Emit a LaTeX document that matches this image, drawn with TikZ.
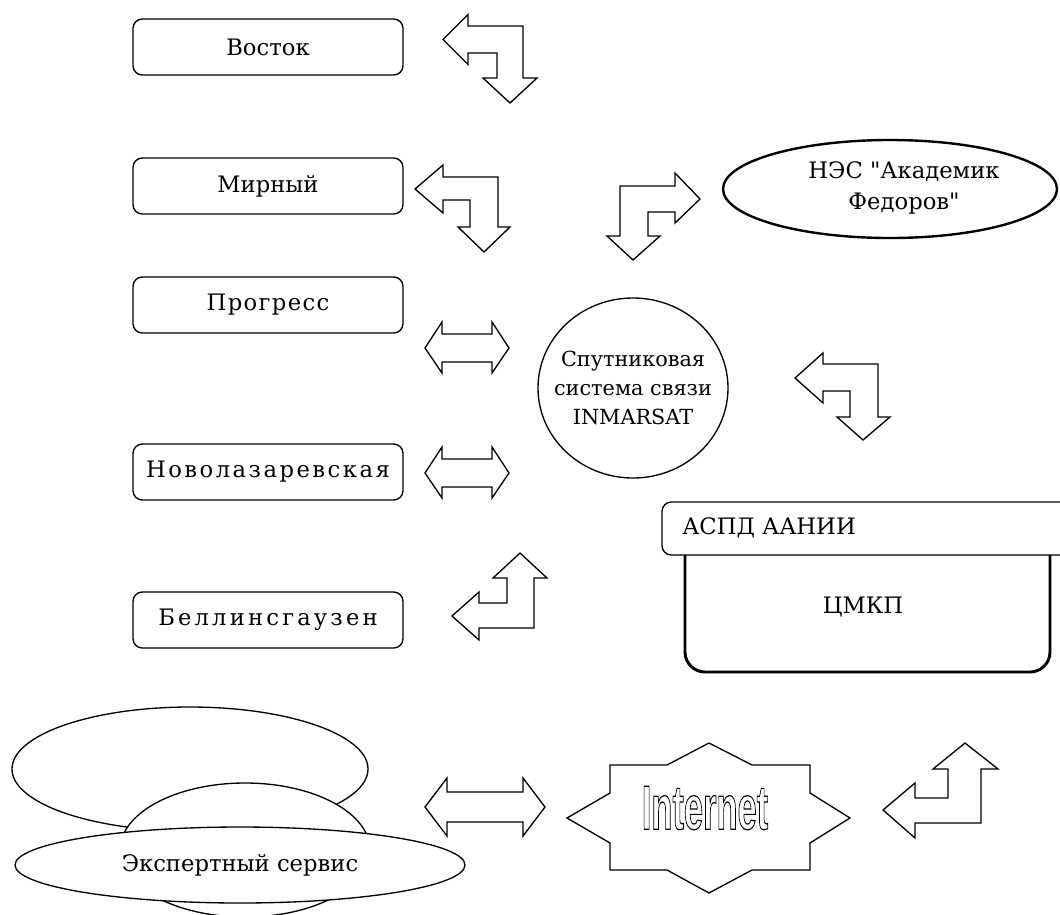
\documentclass[tikz,border=0pt]{standalone}
\usepackage{fontspec}
\setmainfont{DejaVu Serif}[Ligatures=TeXOff]
\newfontfamily\inetfont{Liberation Sans}[Ligatures=TeXOff]
\usetikzlibrary{shapes.geometric}
\tikzset{
  blockarrow/.style={draw, line width=1pt, fill=white, line join=miter},
  stationbox/.style={draw, line width=1pt, rounded corners=7pt, minimum width=202.5pt,
    minimum height=42pt, inner sep=0pt, font=\fontsize{17}{20}\selectfont},
  plainline/.style={draw, line width=1pt, fill=white},
  lbl/.style={font=\fontsize{17}{20}\selectfont, inner sep=0pt}
}
\begin{document}
\begin{tikzpicture}[x=0.75pt, y=-0.75pt]
\useasboundingbox (0,0) rectangle (1060,914);
\clip (0,0) rectangle (1060,914);

% station boxes
\node[stationbox] (vostok) at (268,47) {Восток};
\node[stationbox] (mirny) at (268,186) {Мирный};
\node[stationbox] (progress) at (268,305) {\addfontfeatures{LetterSpace=6}Прогресс};
\node[stationbox] (novo) at (268,472) {\addfontfeatures{LetterSpace=11}Новолазаревская};
\node[stationbox] (bell) at (268,620) {\addfontfeatures{LetterSpace=14}Беллинсгаузен};

% satellite system
\node[draw, line width=1pt, ellipse, minimum width=142.5pt, minimum height=135pt, inner sep=0pt] (sat) at (633,388) {};
\node[align=center, inner sep=0pt, font=\fontsize{15.6}{21.5}\selectfont] (sattext) at (sat.center)
  {Спутниковая\\система связи\\INMARSAT};

% ship
\node[draw, line width=1.8pt, ellipse, minimum width=250.5pt, minimum height=73.5pt, inner sep=0pt] (ship) at (890,189) {};
\node[align=center, inner sep=0pt, font=\fontsize{17}{23}\selectfont] (shiptext) at (904,188)
  {НЭС "Академик\\Федоров"};

% CMKP box with ASPD header
\draw[line width=2.2pt, rounded corners=15pt] (685,540) -- (685,672) -- (1050,672) -- (1050,540);
\draw[line width=1pt, fill=white, rounded corners=7pt] (662,502) rectangle (1075,555);
\node[lbl, anchor=west] (aspd) at (682,528) {АСПД ААНИИ};
\node[lbl] (cmkp) at (863,607) {ЦМКП};

% expert service cloud
\draw[plainline] (190,769) ellipse [x radius=178, y radius=62];
\draw[plainline] (245,850) ellipse [x radius=125, y radius=67];
\node[draw, line width=1pt, fill=white, ellipse, minimum width=337.5pt, minimum height=57pt,
  inner sep=0pt] (expert) at (240,865) {};
\node[lbl] (experttext) at (expert.center) {Экспертный сервис};

% block arrows
% Vostok (left-down)
\path[blockarrow] (443,39.5) -- (468,14.5) -- (468,26) -- (523,26) -- (523,78) -- (537,78)
  -- (510,103) -- (483,78) -- (497,78) -- (497,53) -- (468,53) -- (468,64.5) -- cycle;
% Mirny (left-down)
\path[blockarrow] (415,189) -- (443,165) -- (443,177) -- (498,177) -- (498,227) -- (510,227)
  -- (484,252) -- (458,227) -- (470,227) -- (470,200) -- (443,200) -- (443,213) -- cycle;
% Ship (right-down)
\path[blockarrow] (700,199) -- (675,173) -- (675,186) -- (620,186) -- (620,236) -- (607,236)
  -- (633,260) -- (660,236) -- (648,236) -- (648,212) -- (675,212) -- (675,223) -- cycle;
% Satellite to CMKP (left-down)
\path[blockarrow] (795,378) -- (823,353) -- (823,364) -- (878,364) -- (878,417) -- (890,417)
  -- (863,440) -- (837,417) -- (850,417) -- (850,391) -- (823,391) -- (823,403) -- cycle;
% Bellingshausen (up-left)
\path[blockarrow] (520,553) -- (547,578) -- (534,578) -- (534,628) -- (479,628) -- (479,640)
  -- (452,616) -- (479,592) -- (479,603) -- (507,603) -- (507,578) -- (493,578) -- cycle;
% Internet right (up-left)
\path[blockarrow] (965,743) -- (998,769) -- (981,769) -- (981,823) -- (915,823) -- (915,838)
  -- (883,810) -- (915,783) -- (915,798) -- (948,798) -- (948,769) -- (933,769) -- cycle;
% Progress double arrow
\path[blockarrow] (425,348) -- (442,322) -- (442,334) -- (492,334) -- (492,322) -- (509,348)
  -- (492,373) -- (492,362) -- (442,362) -- (442,373) -- cycle;
% Novolazarevskaya double arrow
\path[blockarrow] (425,473) -- (442,447) -- (442,459) -- (492,459) -- (492,447) -- (509,473)
  -- (492,498) -- (492,487) -- (442,487) -- (442,498) -- cycle;
% Internet left double arrow
\path[blockarrow] (425,807) -- (447,778) -- (447,792) -- (523,792) -- (523,778) -- (545,807)
  -- (523,836) -- (523,822) -- (447,822) -- (447,836) -- cycle;

% Internet star
\path[blockarrow] (709,743) -- (752,765) -- (810,765) -- (810,793) -- (850,818) -- (810,843)
  -- (810,870) -- (752,870) -- (709,893) -- (667,870) -- (610,870) -- (610,843) -- (567,818)
  -- (610,793) -- (610,765) -- (667,765) -- cycle;
\node[inner sep=0pt, xscale=0.55] (inet) at (705,808)
  {\inetfont\bfseries\fontsize{47}{47}\selectfont\special{pdf:literal direct 1 Tr 0.9 w}Internet\special{pdf:literal direct 0 Tr}};
\end{tikzpicture}
\end{document}
